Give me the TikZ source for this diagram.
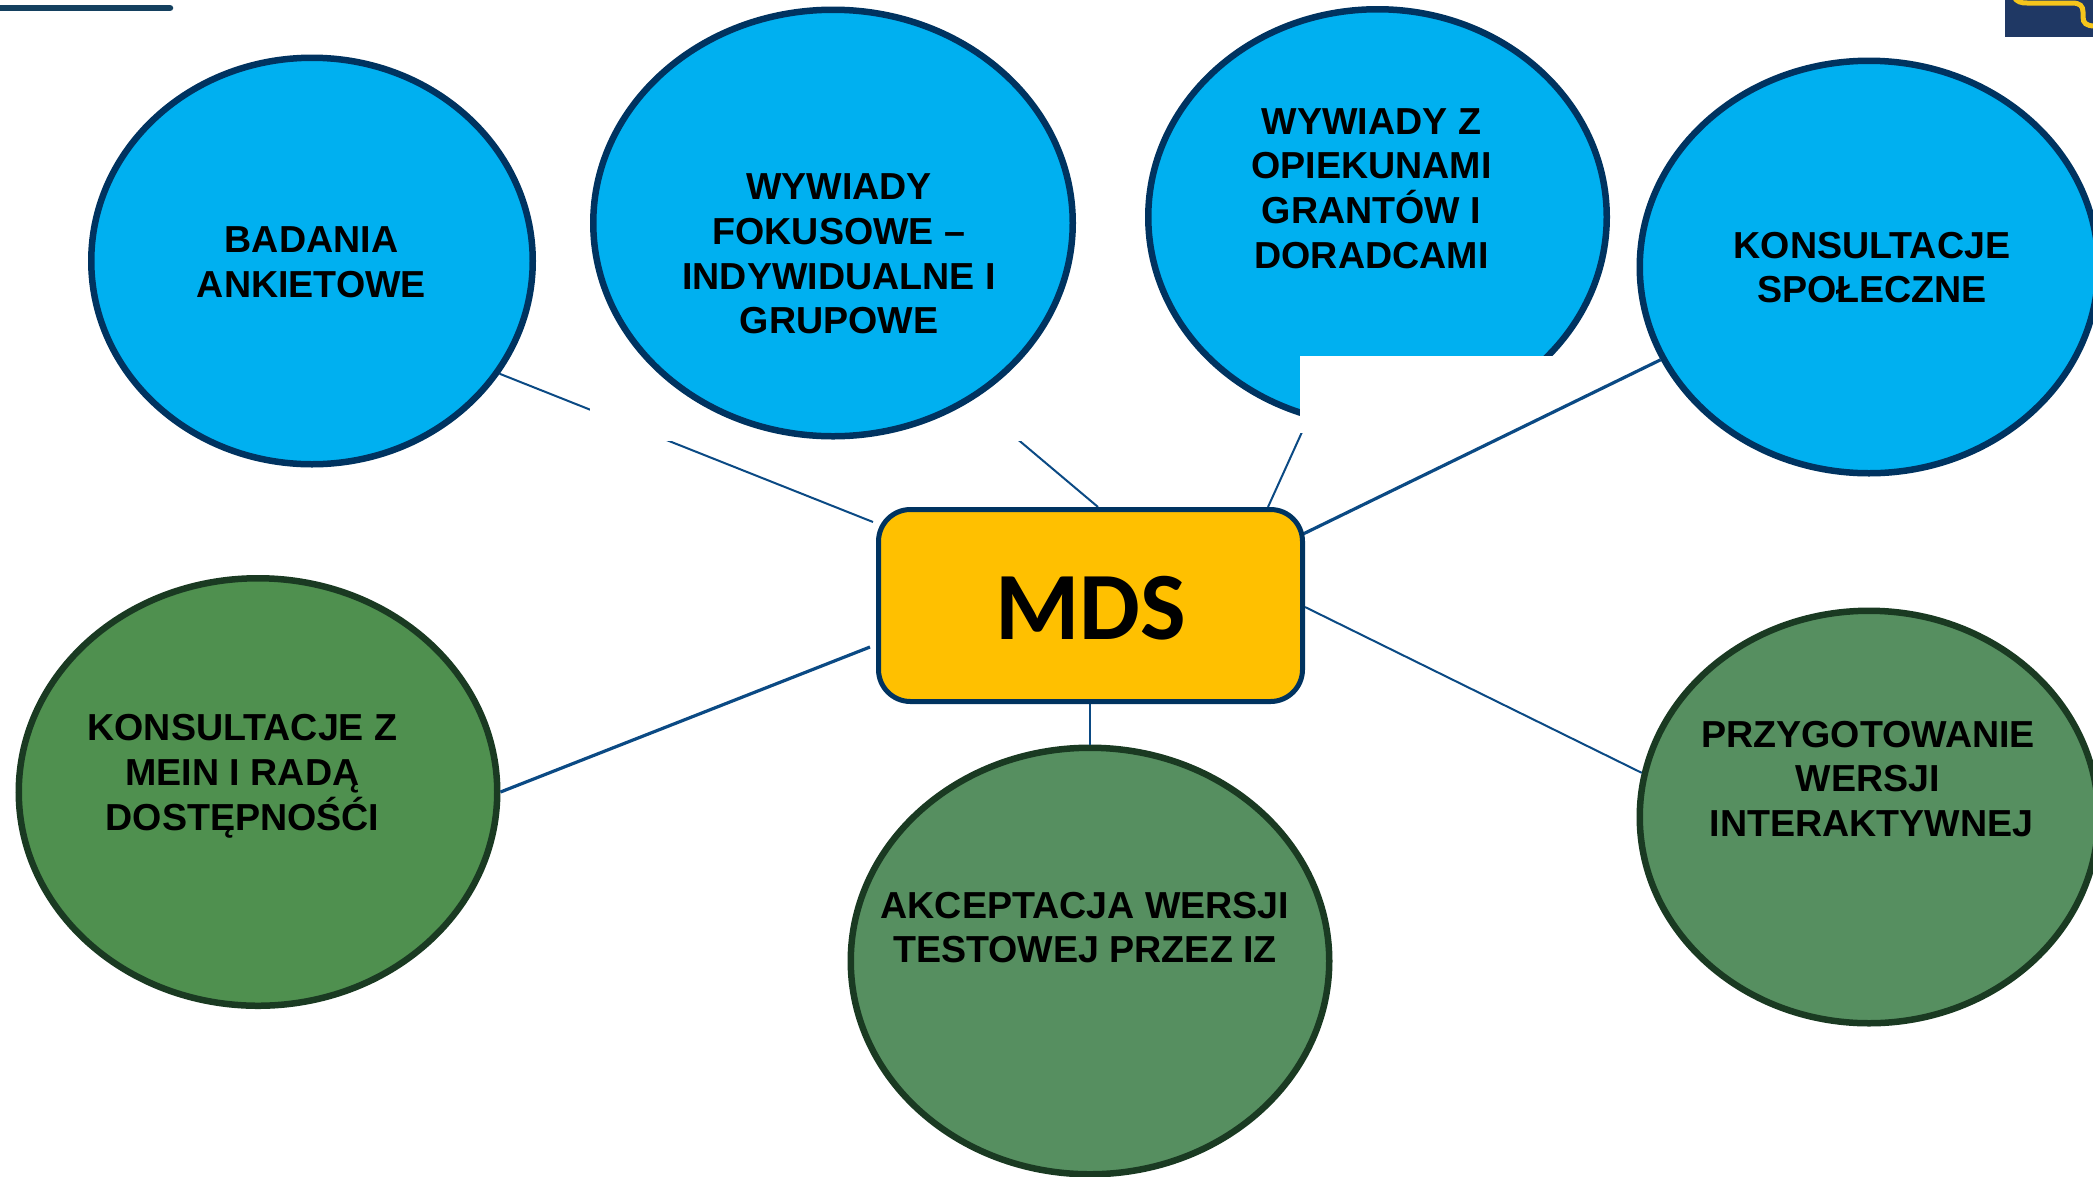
\documentclass[tikz,border=0pt]{standalone}
\usepackage{fontspec}
\setmainfont{Liberation Sans}
\newfontfamily\carl{Carlito}
\usetikzlibrary{shapes.geometric,backgrounds}
\definecolor{bluefill}{HTML}{00B0F0}
\definecolor{blueline}{HTML}{003360}
\definecolor{greenA}{HTML}{4F904F}
\definecolor{greenB}{HTML}{568F60}
\definecolor{greenline}{HTML}{1A3A22}
\definecolor{amber}{HTML}{FFC000}
\definecolor{conn}{HTML}{0B4A84}
\definecolor{navy}{HTML}{1F3864}
\definecolor{gold}{HTML}{F6C61B}
\definecolor{topbar}{HTML}{14405F}
\tikzset{
  x=1pt,y=-1pt,
  bub/.style={ellipse,draw=blueline,fill=bluefill,line width=6.5pt,inner sep=0pt},
  grn/.style={ellipse,draw=greenline,fill=greenB,line width=6.5pt,inner sep=0pt},
  lab/.style={font=\fontsize{37.6}{44.8}\selectfont\bfseries,align=center,inner sep=0pt,text=black},
  thin conn/.style={draw=conn,line width=2pt},
  thick conn/.style={draw=conn,line width=3.2pt},
}
\begin{document}
\begin{tikzpicture}
\useasboundingbox (0,0) rectangle (2093,1176);
% corner marks
\coordinate (barA) at (-10,8);
\coordinate (barB) at (170,8);
\draw[topbar,line width=6.5pt,line cap=round] (barA) -- (barB);
\fill[navy] (2005,0) rectangle (2093,37);
\draw[gold,line width=5pt] (2014,-3) .. controls (2017,2) and (2021,3) .. (2027,3) -- (2072,3) .. controls (2080,3) and (2083,6) .. (2083,12) -- (2083,17) .. controls (2083,23) and (2086,26) .. (2095,26);
% free ends next to the MDS box
\coordinate (c1) at (873,522);
\coordinate (c2) at (1098,507);
\coordinate (c3) at (1268,507);
\coordinate (c4) at (1301,535);
\coordinate (c5) at (1305,607);
\coordinate (c6) at (1090,704);
\coordinate (c7) at (870,647);
% ellipses
\node[bub,minimum width=441.5pt,minimum height=406.5pt] (bad) at (312,261) {};
\node[bub,minimum width=479.5pt,minimum height=426.5pt] (fok) at (833,223) {};
\node[bub,minimum width=458.5pt,minimum height=415.5pt] (wyw) at (1377.5,217) {};
\node[bub,minimum width=458.5pt,minimum height=412.5pt] (kon) at (1869,267) {};
\node[grn,fill=greenA,minimum width=478.5pt,minimum height=427.5pt] (mein) at (258,792) {};
\node[grn,minimum width=478.5pt,minimum height=426.5pt] (akc) at (1090,961) {};
\node[grn,minimum width=458.5pt,minimum height=412.5pt] (prz) at (1869,817) {};
% connectors masked below the ellipses
\begin{scope}[on background layer]
\draw[thin conn] (bad.-31.5) -- (c1);
\draw[thin conn] (fok.-52.8) -- (c2);
\fill[white] (590,330) rectangle (1040,441);
\end{scope}
\draw[thin conn] (wyw.-109.3) -- (c3);
\fill[white] (1300,356) rectangle (1556,433);
\draw[thick conn] (kon.-156.5) -- (c4);
\draw[thin conn] (prz.169) -- (c5);
\draw[thin conn] (akc.north) -- (c6);
\draw[thick conn] (mein.east) -- (c7);
% centre box
\node[draw=blueline,fill=amber,line width=5pt,rounded corners=32pt,minimum width=424pt,minimum height=192pt,inner sep=0pt] (mds) at (1090.5,605.5) {};
\node[font=\carl\fontsize{96.5}{96.5}\selectfont\bfseries,inner sep=0pt] (tmds) at (1091,608) {MDS};
% labels
\node[lab] (tbad) at (311.5,262.5) {BADANIA\\ANKIETOWE};
\node[lab] (tfok) at (839,254) {WYWIADY\\FOKUSOWE –\\INDYWIDUALNE I\\GRUPOWE};
\node[lab] (twyw) at (1371.5,188.5) {WYWIADY Z\\OPIEKUNAMI\\GRANTÓW I\\DORADCAMI};
\node[lab] (tkon) at (1872,267.5) {KONSULTACJE\\SPOŁECZNE};
\node[lab] (tmein) at (242.5,776.5) {KONSULTACJE Z\\MEIN I RADĄ\\DOSTĘPNOŚĆI};
\node[lab] (takc) at (1085,927.5) {AKCEPTACJA WERSJI\\TESTOWEJ PRZEZ IZ};
\node[lab] (tprz) at (1868,779) {PRZYGOTOWANIE\\WERSJI\\\hspace*{7pt}INTERAKTYWNEJ};
\end{tikzpicture}
\end{document}
